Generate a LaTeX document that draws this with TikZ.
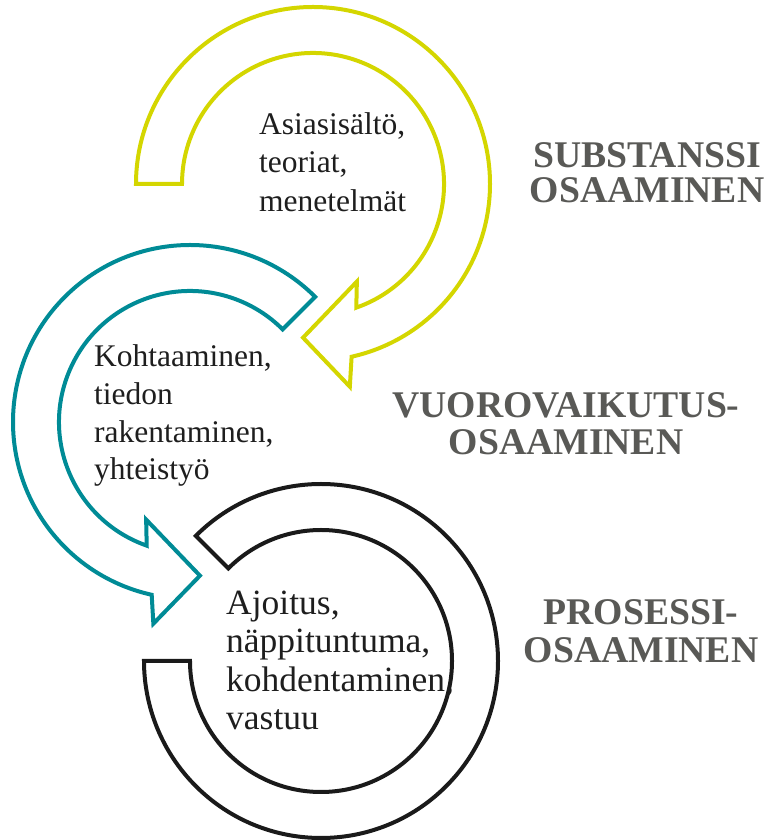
\documentclass[tikz,border=0pt]{standalone}
\usepackage{fontspec}
\setmainfont{Liberation Serif}
\definecolor{ylw}{RGB}{212,214,0}
\definecolor{tealc}{RGB}{0,139,150}
\definecolor{blk}{RGB}{26,26,26}
\definecolor{lblgray}{RGB}{89,89,86}
\definecolor{txt}{RGB}{30,30,30}
\begin{document}
\begin{tikzpicture}[x=1pt,y=1pt,
  ring/.style={line width=4pt, line join=miter},
  body/.style={inner sep=0pt, anchor=base west, text=txt, font=\fontsize{31.5}{38}\selectfont},
  bodybig/.style={body, font=\fontsize{35.5}{38}\selectfont},
  lbl/.style={inner sep=0pt, anchor=base, text=lblgray, font=\fontsize{37.7}{36}\selectfont\bfseries}]
\useasboundingbox (0,0) rectangle (764,840);
% yellow arrow (clockwise)
\draw[ring, draw=ylw, shift={(313,656)}]
  (180:177) arc[start angle=180, end angle=-77.4, radius=177]
  -- (-79.7:206) -- (-93.7:154) -- (-65.8:107) -- (-70.7:131)
  arc[start angle=-70.7, end angle=180, radius=131] -- cycle;
% teal arrow (counter-clockwise)
\draw[ring, draw=tealc, shift={(190,418)}]
  (45:177) arc[start angle=45, end angle=257.5, radius=177]
  -- (259.7:205) -- (273.7:154) -- (245.8:107) -- (250.7:131)
  arc[start angle=250.7, end angle=45, radius=131] -- cycle;
% black ring
\draw[ring, draw=blk, shift={(321,179)}]
  (135:177) arc[start angle=135, end angle=-180, radius=177]
  -- (-180:131) arc[start angle=-180, end angle=135, radius=131] -- cycle;
% texts in rings
\node[body] (y1) at (259,705) {Asiasisältö,};
\node[body] (y2) at (259,667) {teoriat,};
\node[body] (y3) at (259,628) {menetelmät};
\node[body] (t1) at (94,473) {Kohtaaminen,};
\node[body] (t2) at (94,435) {tiedon};
\node[body] (t3) at (94,397) {rakentaminen,};
\node[body] (t4) at (94,360) {yhteistyö};
\node[bodybig] (b1) at (226,225) {Ajoitus,};
\node[bodybig] (b2) at (226,187) {näppituntuma,};
\node[bodybig] (b3) at (226,148) {kohdentaminen,};
\node[bodybig] (b4) at (226,110) {vastuu};
% labels
\node[lbl] (s1) at (647,672) {SUBSTANSSI};
\node[lbl] (s2) at (647,637) {OSAAMINEN};
\node[lbl] (v1) at (566,422) {VUOROVAIKUTUS-};
\node[lbl] (v2) at (566,385) {OSAAMINEN};
\node[lbl] (p1) at (641,215) {PROSESSI-};
\node[lbl] (p2) at (641,177) {OSAAMINEN};
\end{tikzpicture}
\end{document}
